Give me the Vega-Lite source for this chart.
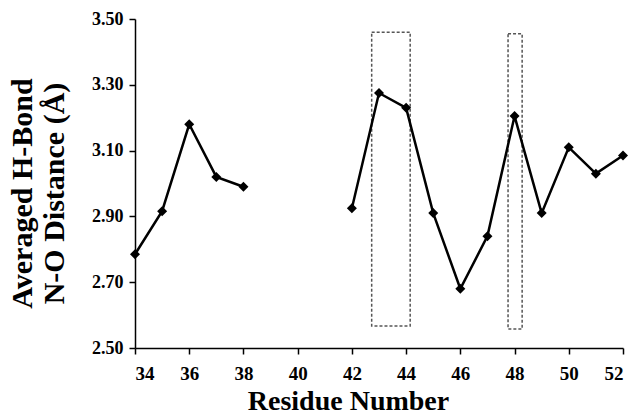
{
  "$schema": "https://vega.github.io/schema/vega-lite/v6.json",
  "autosize": {"type": "none"},
  "padding": {"left": 135, "top": 19, "right": 6, "bottom": 68},
  "width": 488,
  "height": 329,
  "background": "white",
  "config": {
    "view": {"stroke": null},
    "font": "Liberation Serif",
    "axis": {
      "grid": false,
      "domainColor": "black",
      "domainWidth": 1.5,
      "tickColor": "black",
      "tickWidth": 1.5,
      "tickSize": 6,
      "labelColor": "black",
      "titleColor": "black",
      "labelFont": "Liberation Serif",
      "titleFont": "Liberation Serif",
      "labelFontWeight": "bold",
      "titleFontWeight": "bold"
    }
  },
  "datasets": {
    "pts": [
      {"residue": 34, "distance": 2.785, "segment": "A"},
      {"residue": 35, "distance": 2.916, "segment": "A"},
      {"residue": 36, "distance": 3.18, "segment": "A"},
      {"residue": 37, "distance": 3.02, "segment": "A"},
      {"residue": 38, "distance": 2.99, "segment": "A"},
      {"residue": 42, "distance": 2.925, "segment": "B"},
      {"residue": 43, "distance": 3.275, "segment": "B"},
      {"residue": 44, "distance": 3.23, "segment": "B"},
      {"residue": 45, "distance": 2.91, "segment": "B"},
      {"residue": 46, "distance": 2.68, "segment": "B"},
      {"residue": 47, "distance": 2.84, "segment": "B"},
      {"residue": 48, "distance": 3.205, "segment": "B"},
      {"residue": 49, "distance": 2.91, "segment": "B"},
      {"residue": 50, "distance": 3.11, "segment": "B"},
      {"residue": 51, "distance": 3.03, "segment": "B"},
      {"residue": 52, "distance": 3.085, "segment": "B"}
    ],
    "boxes": [
      {"x1": 42.73, "x2": 44.15, "y1": 2.567, "y2": 3.46},
      {"x1": 47.76, "x2": 48.28, "y1": 2.558, "y2": 3.455}
    ]
  },
  "layer": [
    {
      "data": {"name": "boxes"},
      "mark": {"type": "rect", "fill": null, "stroke": "#555555", "strokeWidth": 1.5, "strokeDash": [3, 2]},
      "encoding": {
        "x": {"field": "x1", "type": "quantitative", "scale": {"domain": [34, 52], "nice": false, "zero": false}},
        "x2": {"field": "x2"},
        "y": {"field": "y1", "type": "quantitative", "scale": {"domain": [2.5, 3.5], "nice": false, "zero": false}},
        "y2": {"field": "y2"}
      }
    },
    {
      "data": {"name": "pts"},
      "mark": {"type": "line", "color": "black", "strokeWidth": 2.5},
      "encoding": {
        "x": {
          "field": "residue", "type": "quantitative",
          "scale": {"domain": [34, 52], "nice": false, "zero": false},
          "axis": {
            "values": [34, 36, 38, 40, 42, 44, 46, 48, 50, 52],
            "format": "d",
            "labelFontSize": 19,
            "labelPadding": 10,
            "title": "Residue Number",
            "titleFontSize": 28,
            "titleX": 213,
            "titleY": 61,
            "titleAlign": "center",
            "titleBaseline": "alphabetic"
          }
        },
        "y": {
          "field": "distance", "type": "quantitative",
          "scale": {"domain": [2.5, 3.5], "nice": false, "zero": false},
          "axis": {
            "values": [2.5, 2.7, 2.9, 3.1, 3.3, 3.5],
            "format": ".2f",
            "labelFontSize": 18,
            "labelPadding": 6,
            "title": ["Averaged H-Bond", "N-O Distance (Å)"],
            "titleFontSize": 30,
            "titleLineHeight": 32,
            "titleX": -128,
            "titleY": 174,
            "titleAngle": -90,
            "titleAlign": "center",
            "titleBaseline": "top"
          }
        },
        "detail": {"field": "segment"}
      }
    },
    {
      "data": {"name": "pts"},
      "mark": {"type": "point", "shape": "diamond", "filled": true, "color": "black", "size": 100, "opacity": 1},
      "encoding": {
        "x": {"field": "residue", "type": "quantitative"},
        "y": {"field": "distance", "type": "quantitative"}
      }
    }
  ]
}
